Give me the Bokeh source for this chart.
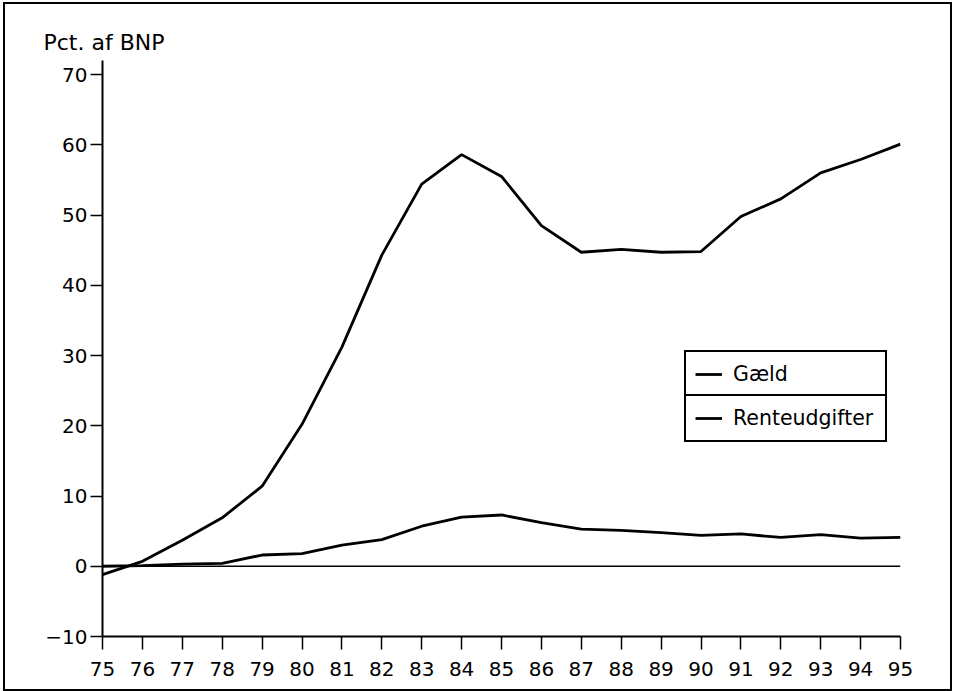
from bokeh.plotting import figure
from bokeh.models import Range1d, FixedTicker, Span, Legend, LegendItem, ColumnDataSource
from bokeh.embed import file_html
from bokeh.resources import INLINE

# ---- data ----
years = list(range(75, 96))
gaeld = [-1.2, 0.7, 3.7, 6.9, 11.4, 20.2, 31.2, 44.3, 54.4, 58.6, 55.5,
         48.5, 44.7, 45.1, 44.7, 44.8, 49.8, 52.3, 56.0, 57.9, 60.1]
rente = [0.0, 0.1, 0.3, 0.4, 1.6, 1.8, 3.0, 3.8, 5.7, 7.0, 7.3,
         6.2, 5.3, 5.1, 4.8, 4.4, 4.6, 4.1, 4.5, 4.0, 4.1]
x_ticks = list(range(75, 96))
y_ticks = [-10, 0, 10, 20, 30, 40, 50, 60, 70]
series_names = ["Gæld", "Renteudgifter"]
y_title = "Pct. af BNP"

FONT = "DejaVu Sans"

src = ColumnDataSource(dict(year=years, gaeld=gaeld, rente=rente))

p = figure(width=949, height=689,
           x_range=Range1d(75, 95), y_range=Range1d(-10, 72),
           output_backend="svg", toolbar_location=None,
           min_border_left=97, min_border_right=54,
           min_border_top=56, min_border_bottom=57,
           styles={"border": "2px solid black", "margin-left": "3px",
                   "margin-top": "2px", "box-sizing": "border-box"})
p.outline_line_color = None
p.xgrid.visible = False
p.ygrid.visible = False
p.background_fill_color = "white"
p.border_fill_color = "white"

# y title (top-left, above the axis)
p.title.text = y_title
p.title.align = "left"
p.title.offset = -59
p.title.text_font = FONT
p.title.text_font_size = "22px"
p.title.text_font_style = "normal"
p.title.text_color = "black"
p.title.standoff = 11

# zero line
p.add_layout(Span(location=0, dimension="width", line_color="black", line_width=1.6))

r_g = p.line("year", "gaeld", source=src, line_color="black", line_width=2.8)
r_r = p.line("year", "rente", source=src, line_color="black", line_width=2.8)

# axes
for ax in (p.xaxis[0], p.yaxis[0]):
    ax.axis_line_color = "black"
    ax.axis_line_width = 2
    ax.major_tick_line_color = "black"
    ax.major_tick_line_width = 1.5
    ax.major_tick_in = 0
    ax.minor_tick_line_color = None
    ax.major_label_text_font = FONT
    ax.major_label_text_color = "black"

p.xaxis[0].ticker = FixedTicker(ticks=x_ticks)
p.xaxis[0].major_tick_out = 13
p.xaxis[0].major_label_standoff = 12
p.xaxis[0].major_label_text_font_size = "20px"

p.yaxis[0].ticker = FixedTicker(ticks=y_ticks)
p.yaxis[0].major_tick_out = 12
p.yaxis[0].major_label_standoff = 3
p.yaxis[0].major_label_text_font_size = "20px"
p.yaxis[0].major_label_overrides = {-10: "\u221210"}

# legend: two stacked boxes of equal size
common = dict(padding=9, spacing=0, glyph_width=27, glyph_height=26,
              label_height=26, label_width=143, label_standoff=11,
              label_text_font=FONT, label_text_font_size="20.5px",
              label_text_color="black",
              border_line_color="black", border_line_width=2,
              border_line_alpha=1.0,
              background_fill_color="white", background_fill_alpha=1.0,
              margin=0)
leg1 = Legend(items=[LegendItem(label=series_names[0], renderers=[r_g])],
              location=(582, 238), **common)
leg2 = Legend(items=[LegendItem(label=series_names[1], renderers=[r_r])],
              location=(582, 194), **common)
p.add_layout(leg1)
p.add_layout(leg2)

open("out.html", "w").write(file_html(p, INLINE))
